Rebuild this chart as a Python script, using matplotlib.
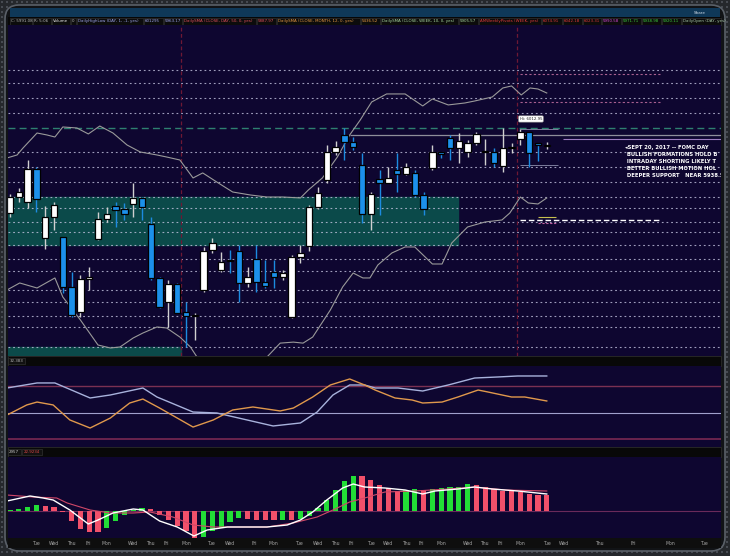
import numpy as np
import matplotlib.pyplot as plt
from matplotlib.patches import FancyBboxPatch, Rectangle

W, H = 730, 556

# ---- price candles (two sessions per trading day) ----
opens = [5897.5, 5919.5, 5912.7, 5958.0, 5863.1, 5892.0, 5864.5, 5795.8, 5761.4, 5806.8,
         5861.8, 5889.3, 5907.2, 5903.0, 5909.9, 5918.2, 5882.4, 5808.2, 5775.2, 5799.9,
         5761.4, 5755.9, 5791.7, 5846.7, 5819.2, 5833.0, 5845.3, 5801.3, 5834.3, 5802.7,
         5816.4, 5809.6, 5754.5, 5837.1, 5852.1, 5905.8, 5942.9, 5981.4, 6004.8, 5995.2,
         5963.5, 5896.2, 5944.3, 5938.8, 5956.7, 5951.2, 5952.6, 5922.3, 5959.4, 5981.4,
         6000.7, 5986.9, 5981.4, 5993.8, 5981.4, 5981.4, 5962.2, 5986.9, 5999.3, 6008.9,
         5993.8, 5989.7]
highs = [5923.6, 5931.9, 5970.4, 5960.8, 5907.2, 5912.7, 5864.5, 5816.4, 5812.3, 5823.3,
         5898.9, 5905.8, 5912.7, 5911.3, 5938.8, 5919.5, 5892.0, 5809.6, 5805.4, 5801.3,
         5775.2, 5760.0, 5850.8, 5863.1, 5843.9, 5846.7, 5853.5, 5823.3, 5853.5, 5833.0,
         5833.0, 5819.2, 5839.8, 5853.5, 5908.5, 5933.3, 5991.0, 5996.5, 6014.4, 6002.0,
         5980.0, 5926.4, 5956.7, 5960.8, 5980.0, 5966.3, 5956.7, 5926.4, 5991.0, 5981.4,
         6004.8, 6007.5, 5997.9, 6008.9, 5999.3, 5986.9, 6014.4, 5993.8, 6012.95, 6008.9,
         5993.8, 5995.2]
lows = [5892.0, 5912.7, 5904.4, 5898.9, 5848.0, 5874.2, 5787.6, 5754.5, 5754.5, 5791.7,
        5860.4, 5885.2, 5878.3, 5887.9, 5892.0, 5887.9, 5805.4, 5766.9, 5740.8, 5760.0,
        5713.3, 5722.9, 5788.9, 5842.6, 5816.4, 5815.0, 5775.2, 5795.8, 5788.9, 5794.4,
        5794.4, 5805.4, 5753.1, 5828.8, 5845.3, 5903.0, 5938.8, 5977.3, 5970.4, 5984.2,
        5883.8, 5874.2, 5894.8, 5938.8, 5926.4, 5949.8, 5919.5, 5894.8, 5956.7, 5973.2,
        5970.4, 5966.3, 5974.5, 5991.0, 5963.5, 5960.8, 5953.9, 5980.0, 5991.0, 5960.8,
        5969.0, 5985.5]
closes = [5919.5, 5926.4, 5958.0, 5916.8, 5892.0, 5908.5, 5795.8, 5757.3, 5806.8, 5809.6,
          5889.3, 5896.2, 5901.7, 5896.2, 5918.2, 5905.8, 5808.2, 5768.3, 5799.9, 5760.0,
          5755.9, 5756.6, 5845.3, 5856.3, 5830.2, 5831.6, 5801.3, 5809.6, 5802.7, 5797.2,
          5809.6, 5815.0, 5837.1, 5842.6, 5905.8, 5925.0, 5981.4, 5988.3, 5995.2, 5988.3,
          5896.2, 5923.6, 5938.8, 5945.7, 5951.2, 5960.8, 5922.3, 5903.0, 5981.4, 5979.3,
          5986.9, 5996.5, 5993.8, 6006.2, 5982.0, 5966.3, 5986.9, 5987.6, 6008.9, 5980.0,
          5991.0, 5991.08]

# bollinger bands (bar index, price)
upper_x = [-0.34, 0.8, 1.48, 3.07, 4.2, 5.1, 6.0, 7.6, 8.9, 10.2, 11.7, 13.3, 14.8, 16.7,
           17.8, 19.3, 20.8, 21.9, 23.5, 25.3, 27.3, 29.2, 31.0, 33.0, 33.9, 35.5, 37.2,
           38.6, 39.8, 40.3, 41.1, 42.8, 44.9, 46.9, 48.0, 49.8, 51.7, 52.8, 54.8, 56.0,
           57.0, 58.1, 59.1, 60.0, 61.0]
upper_y = [5973.2, 5977.3, 5986.9, 6007.5, 6004.8, 6002.0, 6015.8, 6014.4, 6006.2, 6017.1,
           6007.5, 5991.0, 5981.4, 5977.3, 5974.5, 5970.4, 5945.7, 5952.6, 5940.1, 5926.4,
           5922.3, 5919.5, 5919.5, 5918.2, 5929.1, 5945.7, 5974.5, 6004.8, 6025.4, 6035.0,
           6050.2, 6061.2, 6061.2, 6044.7, 6054.3, 6046.1, 6048.8, 6051.5, 6057.0, 6069.4,
           6072.2, 6059.8, 6069.4, 6068.0, 6062.5]
lower_x = [-0.34, 1.1, 3.07, 5.1, 6.0, 8.0, 10.0, 11.4, 12.5, 14.0, 15.1, 16.7, 17.8, 19.3,
           20.5, 21.25, 23.0, 25.5, 27.5, 29.2, 30.7, 32.2, 33.3, 34.4, 36.4, 37.8, 39.0,
           40.1, 40.9, 41.8, 43.4, 44.9, 46.0, 48.0, 49.1, 50.2, 52.0, 54.0, 55.9, 56.8,
           58.0, 58.9, 60.0, 61.0]
lower_y = [5791.7, 5801.3, 5794.4, 5808.2, 5782.0, 5750.4, 5716.0, 5711.9, 5713.3, 5725.7,
           5732.5, 5740.8, 5739.4, 5727.0, 5713.3, 5699.5, 5688.0, 5684.0, 5690.0, 5699.5,
           5718.6, 5720.0, 5718.6, 5727.0, 5764.1, 5795.8, 5815.0, 5808.2, 5808.2, 5826.0,
           5842.6, 5850.8, 5850.8, 5827.4, 5827.4, 5856.3, 5878.3, 5885.2, 5887.9, 5897.5,
           5919.5, 5911.3, 5909.9, 5918.2]

# horizontal levels on the price panel
dotted_levels = [6094.2, 6076.3, 6055.7, 6035.0, 5981.4, 5960.8, 5940.1, 5919.5, 5904.4,
                 5885.2, 5871.4, 5853.5, 5834.3, 5817.8, 5791.7, 5775.2, 5755.9, 5740.8,
                 5713.3]
teal_level = 6014.4
gray_level = 6004.8
purple_level = 5998.9
sma50_day = 5887.97
pivot_marks = [6088.6, 6050.1]
day_high, day_low = 6012.95, 5963.17
zone_top, zone_bottom = 5919.5, 5853.5
low_zone_top = 5713.3
session_lines = [19.4, 57.6]

# stochastic oscillator panel
stoch_blue_x = [-0.34, 3.07, 5.1, 9.1, 11.4, 15.1, 16.7, 20.8, 23.5, 29.9, 33.0, 34.9, 36.7,
                38.6, 40.3, 41.5, 44.1, 46.9, 49.8, 52.8, 55.5, 57.7, 61.0]
stoch_blue_y = [77.8, 83.5, 83.5, 66.5, 69.9, 77.8, 67.6, 50.6, 49.5, 34.8, 38.2, 50.6, 69.9,
                81.2, 81.2, 77.8, 77.8, 74.4, 81.2, 89.1, 90.3, 91.4, 91.4]
stoch_orange_x = [-0.34, 1.9, 3.07, 4.9, 6.8, 9.1, 11.4, 13.6, 15.1, 17.0, 19.0, 20.8, 23.1,
                  25.3, 27.6, 30.7, 32.2, 34.4, 36.4, 38.6, 40.3, 41.5, 43.75, 45.7, 46.9,
                  49.1, 50.9, 53.2, 54.3, 57.0, 58.5, 61.0]
stoch_orange_y = [47.2, 58.6, 61.9, 58.6, 41.6, 32.5, 43.8, 60.8, 65.3, 55.1, 43.8, 33.6, 41.6,
                  52.9, 56.3, 51.8, 55.1, 67.6, 81.2, 88.0, 81.2, 75.5, 66.5, 64.2, 60.8,
                  61.9, 67.6, 75.5, 73.3, 67.6, 67.6, 63.1]
stoch_levels = [80, 50, 20]

# momentum histogram panel
hist_vals = [1.3, 2.3, 4.0, 6.3, 5.3, 4.0, -1.0, -10.3, -18.0, -21.0,
             -21.3, -17.0, -10.3, -3.7, 1.3, 3.0, 2.0, -3.7, -8.7, -15.3,
             -20.3, -27.0, -26.0, -20.3, -17.0, -11.3, -7.0, -8.0, -8.7, -9.3,
             -9.3, -9.3, -9.3, -8.0, -5.3, 3.0, 11.3, 21.3, 29.7, 35.3,
             35.3, 31.3, 26.3, 23.0, 19.7, 21.3, 22.0, 21.3, 22.3, 23.0,
             23.7, 24.0, 27.3, 26.3, 24.0, 22.0, 20.3, 19.7, 18.7, 17.0,
             16.3, 15.7]
hist_up = [1, 1, 1, 1, 0, 0, 0, 0, 0, 0,
           0, 1, 1, 1, 1, 1, 0, 0, 0, 0,
           0, 0, 1, 1, 1, 1, 1, 0, 0, 0,
           0, 1, 0, 1, 1, 1, 1, 1, 1, 1,
           0, 0, 0, 0, 0, 1, 1, 0, 1, 1,
           1, 1, 1, 0, 0, 0, 0, 0, 0, 0,
           0, 0]
value_x = [-0.34, 2.27, 3.75, 4.9, 6.8, 8.9, 10.0, 11.7, 14.0, 15.1, 17.0, 19.0, 20.9, 22.4,
           24.7, 29.2, 31.5, 33.0, 34.4, 36.0, 37.8, 39.0, 40.3, 42.6, 44.9, 46.9, 48.3,
           50.9, 52.8, 54.8, 57.7, 61.0]
value_y = [10, 15, 13, 11, 1, -13, -9, -2, 2, 1, -10, -16, -25, -19, -16, -16, -14, -9, -1,
           11, 23, 27, 24, 23, 21, 17, 20, 22, 24, 22, 20, 17]
avg_x = [-0.34, 2.6, 5.3, 6.5, 9.1, 11.4, 14.0, 15.9, 18.5, 20.8, 23.1, 29.2, 32.2, 34.9,
         36.7, 38.6, 40.3, 42.6, 46.0, 49.8, 52.8, 56.3, 61.0]
avg_y = [16, 14, 13, 8, 1, -2, -2, -1, -6, -14, -16, -16, -12, -6, 1, 9, 13, 19, 20, 22, 24,
         21, 20]

day_pos = [3, 5, 7, 8.9, 11, 14, 16, 17.7, 20, 22.8, 25, 27.7, 29.9, 32.8, 35, 37, 38.75,
           41, 43, 45, 46.7, 49, 52, 53.9, 55.7, 58, 61, 63, 67, 70.8, 75, 78.9]
day_names = ['Tue', 'Wed', 'Thu', 'Fri', 'Mon', 'Wed', 'Thu', 'Fri', 'Mon', 'Tue', 'Wed',
             'Fri', 'Mon', 'Tue', 'Wed', 'Thu', 'Fri', 'Tue', 'Wed', 'Thu', 'Fri', 'Mon',
             'Wed', 'Thu', 'Fri', 'Mon', 'Tue', 'Wed', 'Thu', 'Fri', 'Mon', 'Tue']

note_lines = ['\u25c2SEPT 20, 2017 -- FOMC DAY',
              ' BULLISH FORMATIONS HOLD B',
              ' INTRADAY SHORTING LIKELY T',
              ' BETTER BULLISH MOTION HOL',
              ' DEEPER SUPPORT   NEAR 5938.5']

header = [('C: 5991.08', '#b8b8b8'), ('R: 5:06', '#b8b8b8'), ('Volume', '#e8e8e8'),
          ('0', '#b8b8b8'), ('DailyHighLow (DAY, 1, -1, yes)', '#9ea4ec'),
          ('601295', '#9ea4ec'), ('5963.17', '#9ea4ec'),
          ('DailySMA (CLOSE, DAY, 50, 0, yes)', '#e2505e'), ('5887.97', '#e2505e'),
          ('DailySMA (CLOSE, MONTH, 12, 0, yes)', '#e89a44'), ('5436.52', '#e89a44'),
          ('DailySMA (CLOSE, WEEK, 10, 0, yes)', '#a8d8a0'), ('5905.57', '#a8d8a0'),
          ('AMWeeklyPivots (WEEK, yes)', '#e03a3a'), ('6074.91', '#e03a3a'),
          ('6042.18', '#e03a3a'), ('6023.31', '#d83a3a'), ('5990.58', '#d448d4'),
          ('5971.71', '#3cc83c'), ('5938.98', '#3cc83c'), ('5920.11', '#3cc83c'),
          ('DailyOpen (DAY, yes)', '#a8c8a8')]
header_x = [10, 33, 52, 71, 77, 144, 164, 183, 257, 277, 361, 381, 459, 479, 542, 563, 583,
            602, 622, 642, 662, 682, 722]

BG = '#0e0630'
TEAL = '#0b4a4a'


def box(x0, y0, x1, y1):
    return [x0 / W, 1 - y1 / H, (x1 - x0) / W, (y1 - y0) / H]


fig = plt.figure(figsize=(W / 100, H / 100), dpi=100)
fig.patch.set_facecolor('#25282c')

# decoration layer in pixel coordinates
bg = fig.add_axes([0, 0, 1, 1], zorder=0)
bg.set_xlim(0, W)
bg.set_ylim(H, 0)
bg.axis('off')
gx, gy = np.meshgrid(np.arange(2, W, 5), np.arange(2, H, 5))
bg.scatter(gx.ravel(), gy.ravel(), s=0.7, c='#474b52', marker='s', linewidths=0)
bg.add_patch(FancyBboxPatch((5, 5), 720, 546, boxstyle='round,pad=0,rounding_size=14',
                            fc='#111316', ec='#5a6068', lw=1.2))
bg.add_patch(Rectangle((10, 8), 710, 9, fc='#0f3858', ec='none'))
bg.text(700, 12.5, 'Share', fontsize=3, color='#d0dce8', ha='center', va='center')
bg.add_patch(Rectangle((8, 17), 713, 8, fc='#070707', ec='none'))
for k, (label, col) in enumerate(header):
    x0, x1 = header_x[k], header_x[k + 1] - 1
    bg.add_patch(Rectangle((x0, 18), x1 - x0, 6.5, fc='#0c0c0c', ec='#3a3a3a', lw=0.4))
    bg.text(x0 + 1.2, 21.4, label, fontsize=2.9, color=col, va='center', clip_on=True)
for y0 in (356, 447):
    bg.add_patch(Rectangle((8, y0), 713, 10, fc='#080808', ec='#2a2a2a', lw=0.6))
bg.add_patch(Rectangle((8, 538), 713, 10, fc='#0e0e0e', ec='none'))
bg.add_patch(Rectangle((8, 358), 17, 6, fc='#111', ec='#3a3a3a', lw=0.4))
bg.text(10, 361.2, '32.383', fontsize=2.9, color='#b0b0b0', va='center')
bg.add_patch(Rectangle((8, 449), 13, 6, fc='#111', ec='#3a3a3a', lw=0.4))
bg.text(9, 452.2, '2957', fontsize=2.9, color='#c8c8c8', va='center')
bg.add_patch(Rectangle((22, 449), 20, 6, fc='#111', ec='#3a3a3a', lw=0.4))
bg.text(23.5, 452.2, '22.9234', fontsize=2.9, color='#e04848', va='center')

ax = fig.add_axes(box(8, 25, 721, 356), zorder=1)
osc = fig.add_axes(box(8, 366, 721, 447), zorder=1)
hist = fig.add_axes(box(8, 457, 721, 538), zorder=1)
for a in (ax, osc, hist):
    a.set_facecolor(BG)
    a.set_xlim(-0.23, 80.8)
    for s in a.spines.values():
        s.set_visible(False)
    a.set_yticks([])
    a.tick_params(axis='x', length=0)
ax.set_xticks([])
osc.set_xticks([])

# ---- price panel ----
ax.set_ylim(5700.9, 6156.0)
ax.axhspan(zone_bottom, zone_top, xmin=0, xmax=(50.9 + 0.23) / 81.03, color=TEAL, zorder=1)
ax.axhspan(5600, low_zone_top, xmin=0, xmax=(19.4 + 0.23) / 81.03, color=TEAL, zorder=1)
for lv in dotted_levels:
    ax.axhline(lv, color='#c4c4e0', lw=0.8, dashes=(1.6, 2.6), alpha=0.8, zorder=2)
ax.axhline(teal_level, color='#2e8070', lw=1.0, dashes=(5, 3), zorder=2)
ax.hlines(gray_level, 38.6, 81, color='#8e8e9a', lw=0.9, zorder=2)
ax.hlines(purple_level, 62.8, 81, color='#9c7cc0', lw=0.8, zorder=2)
for xv in session_lines:
    ax.axvline(xv, color='#6e1834', lw=0.9, dashes=(3, 2), zorder=2)
ax.hlines(pivot_marks, 58, 74, color='#a86090', lw=0.8, linestyles=(0, (2, 2)), zorder=2)
ax.hlines(sma50_day, 58, 74, color='white', lw=1.0, linestyles=(0, (4, 2)), zorder=2)
ax.hlines(5892.0, 60, 62, color='#c8c050', lw=0.8, zorder=2)
ax.hlines(5883.8, 60, 62, color='#c060a0', lw=0.8, linestyles=(0, (2, 1.5)), zorder=2)
ax.hlines([day_high, day_low], 58, 62.3, color='#7c7c9c', lw=0.7, zorder=2)

ax.plot(upper_x, upper_y, color='#9a9a9a', lw=0.8, zorder=3)
ax.plot(lower_x, lower_y, color='#9a9a9a', lw=0.8, zorder=3)

o = np.array(opens)
c = np.array(closes)
hi = np.array(highs)
lo = np.array(lows)
idx = np.arange(len(o))
up = c >= o
ax.vlines(idx[up], lo[up], hi[up], color='#d0d0d0', lw=1.0, zorder=4)
ax.vlines(idx[~up], lo[~up], hi[~up], color='#1c8be0', lw=1.0, zorder=4)
body_lo = np.minimum(o, c)
body_h = np.maximum(np.abs(c - o), 1.2)
ax.bar(idx, body_h, bottom=body_lo, width=0.74,
       color=np.where(up, 'white', '#1c90ea'), edgecolor='black', linewidth=0.9, zorder=5)

ax.text(59.2, 6026.8, 'Hi: 6012.95', fontsize=2.8, color='#202020', ha='center',
        va='center', zorder=6,
        bbox=dict(boxstyle='round,pad=0.3', fc='white', ec='#909090', lw=0.4))
for k, line in enumerate(note_lines):
    ax.annotate(line, xy=(69.9, 5987.5), xytext=(0, -5.1 * k), textcoords='offset points',
                fontsize=3.8, color='white', va='center', ha='left', fontweight='bold',
                annotation_clip=False, clip_on=True, zorder=6)

# ---- oscillator panel ----
osc.set_ylim(11, 102.7)
osc.axhline(stoch_levels[0], color='#7a3052', lw=1.0)
osc.axhline(stoch_levels[1], color='#a0a0cc', lw=0.8)
osc.axhline(stoch_levels[2], color='#7a2852', lw=1.2)
osc.plot(stoch_blue_x, stoch_blue_y, color='#a8b2dc', lw=1.0)
osc.plot(stoch_orange_x, stoch_orange_y, color='#e0984c', lw=1.0)

# ---- histogram panel ----
hist.set_ylim(-27, 54)
hist.axhline(0, color='#6a2a5a', lw=0.8)
hv = np.array(hist_vals)
hcol = np.where(np.array(hist_up) == 1, '#22dd36', '#f2506a')
hist.bar(np.arange(len(hv)), hv, width=0.58, color=hcol, zorder=2)
hist.plot(avg_x, avg_y, color='#d04868', lw=0.8, zorder=3)
hist.plot(value_x, value_y, color='white', lw=1.0, zorder=4)
hist.set_xticks(day_pos)
hist.set_xticklabels(day_names)
hist.tick_params(axis='x', length=0, pad=2.2, labelsize=3.3, labelcolor='#a8a8a8')

fig.savefig('out.png', dpi=100, facecolor=fig.get_facecolor())
